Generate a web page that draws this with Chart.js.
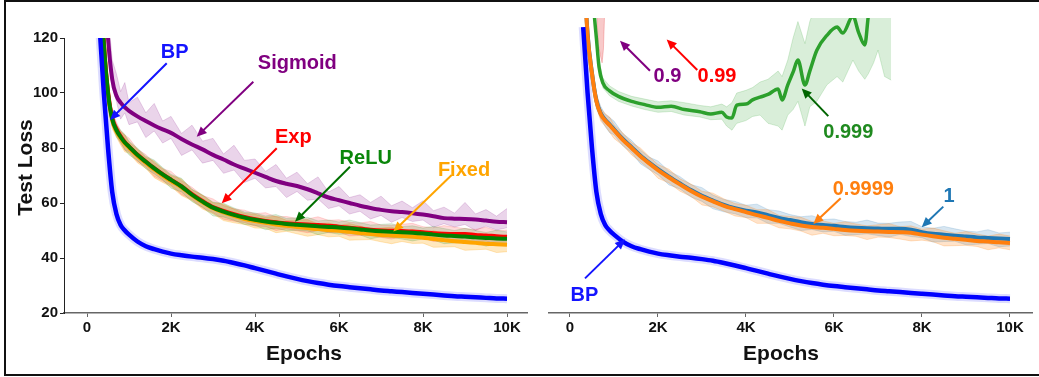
<!DOCTYPE html>
<html>
<head>
<meta charset="utf-8">
<script src="https://cdn.jsdelivr.net/npm/chart.js@4.4.1/dist/chart.umd.min.js"></script>
<style>
  body { margin: 0; background: #fff; }
  #wrap { position: relative; width: 1039px; height: 377px; overflow: hidden; background: #fff; }
  #frame { position: absolute; left: 4px; top: 0; width: 1040px; height: 372px; border-left: 2px solid #111; border-top: 2px solid #111; border-bottom: 2px solid #111; }
  #left { position: absolute; left: 0; top: 0; }
  #right { position: absolute; left: 520px; top: 0; }
</style>
</head>
<body>
<div id="wrap">
  <div id="frame"></div>
  <canvas id="left" width="530" height="377"></canvas>
  <canvas id="right" width="519" height="377"></canvas>
</div>
<script>
// Epochs shared by most of the runs
const epochs = [300, 400, 500, 600, 700, 800, 900, 1000, 1200, 1400, 1600, 1800, 2000, 2250, 2500, 2750, 3000, 3250, 3500, 3750, 4000, 4250, 4500, 4750, 5000, 5250, 5500, 5750, 6000, 6250, 6500, 6750, 7000, 7250, 7500, 7750, 8000, 8250, 8500, 8750, 9000, 9250, 9500, 9750, 10000];

// Left panel: activation functions
const bpLoss = [124, 100, 80, 64, 56, 52, 50, 48.5, 46, 44.3, 43.2, 42.3, 41.6, 41, 40.5, 40.1, 39.6, 39, 38.2, 37.3, 36.3, 35.3, 34.3, 33.3, 32.4, 31.6, 30.9, 30.3, 29.8, 29.4, 29, 28.6, 28.2, 27.9, 27.6, 27.3, 27, 26.7, 26.4, 26.1, 25.9, 25.7, 25.5, 25.3, 25.2];
const sigmoidLoss = [190, 145, 120, 105, 99, 96.5, 94.8, 93.5, 91.5, 89.8, 88.2, 86.8, 85.5, 83.3, 81.3, 79.5, 77.5, 75.8, 74, 72.5, 71, 69.5, 68, 67, 66.2, 65, 63.5, 62, 61, 60, 59, 58.2, 57.5, 57, 56.7, 56.3, 55.8, 55.2, 54.5, 54.3, 54.2, 54, 53.6, 53.2, 53];
const expLoss = [152, 119, 100.5, 91, 87, 84.3, 82.2, 80.6, 77.6, 75.1, 72.7, 70.5, 68.5, 66.1, 63.2, 60.7, 58.5, 57.1, 55.9, 54.9, 54.1, 53.5, 53.0, 52.6, 52.4, 52.2, 52.0, 51.7, 51.4, 51.0, 50.7, 50.3, 50.0, 49.9, 49.8, 49.6, 49.4, 49.0, 48.8, 48.7, 48.7, 48.4, 48.2, 47.9, 47.7];
const reluLoss = [150, 118, 100, 90.5, 86.5, 84, 82, 80.5, 77.5, 75, 72.6, 70.4, 68.4, 66, 63, 60.5, 58.3, 56.9, 55.7, 54.7, 53.9, 53.3, 52.8, 52.4, 52.1, 51.8, 51.5, 51.3, 51.1, 50.8, 50.4, 50.0, 49.7, 49.5, 49.4, 49.2, 48.9, 48.5, 48.2, 48.0, 47.8, 47.5, 47.3, 47.1, 47.0];
const fixedLoss = [149, 117.5, 99.5, 90, 86, 83.6, 81.6, 80.1, 77.1, 74.6, 72.2, 70, 68, 65.7, 62.8, 60.3, 58.1, 56.6, 55.3, 54.2, 53.4, 52.8, 52.2, 51.7, 51.3, 50.9, 50.5, 50.2, 49.9, 49.5, 49.1, 48.7, 48.4, 48.2, 48.0, 47.8, 47.4, 46.9, 46.5, 46.1, 45.8, 45.5, 45.2, 45.0, 44.8];

// Spread of the runs around each mean
const sigmoidUp = [9, 9, 9, 7, 8, 4, 9, 3, 7, 3, 8, 3, 6, 2, 7, 3, 6, 2, 7, 3, 5, 2, 6, 2, 5, 2, 6, 2, 5, 2, 4, 2, 5, 2, 4, 2, 5, 2, 4, 2, 6, 2, 4, 2, 5];
const sigmoidDown = [5, 5, 6, 3, 2, 6, 2, 5, 2, 6, 2, 5, 2, 6, 2, 5, 2, 5, 2, 5, 2, 4, 2, 5, 2, 4, 2, 4, 2, 4, 2, 4, 2, 4, 2, 3, 2, 4, 2, 3, 2, 4, 2, 3, 2];
const jitterA = [2.5, 3, 2.5, 3, 2, 2.5, 3, 2, 2.5, 2, 3, 2.5, 2, 3, 2, 2.5, 2, 3, 2.5, 2, 2.5, 2, 3, 2, 2.5, 3, 2, 2.5, 2, 3, 2.5, 2, 2.5, 3, 2, 2.5, 2, 3, 2.5, 2, 3, 2.5, 2, 3, 2.5];
const jitterB = [2, 2.5, 3, 2, 2.5, 2, 2.5, 3, 2, 2.5, 2, 2, 3, 2, 2.5, 2, 3, 2, 2, 2.5, 2, 3, 2, 2.5, 2, 2, 3, 2, 2.5, 2, 2, 3, 2, 2, 2.5, 3, 2, 2, 3, 2.5, 2, 2, 3, 2, 2.5];

// Right panel: decay values
const p9999Loss = [150, 121, 107, 97, 92.3, 90, 88.3, 86.5, 83, 80, 77, 74.4, 72, 69.3, 66.8, 64.4, 62.3, 60.6, 59, 57.8, 56.7, 55.6, 54.6, 53.5, 52.6, 51.8, 51.3, 51, 50.6, 50.2, 49.9, 49.7, 49.6, 49.5, 49.4, 49.2, 48.5, 47.9, 47.4, 47, 46.6, 46.2, 46, 45.7, 45.5];
const p1Loss = [151, 121.5, 107.3, 97.3, 92.6, 90.3, 88.6, 86.8, 83.3, 80.3, 77.3, 74.7, 72.3, 69.6, 67.1, 64.7, 62.6, 60.9, 59.3, 58.1, 57.2, 56.6, 55.6, 54.6, 53.8, 53.0, 52.4, 52.0, 51.7, 51.3, 51.0, 50.8, 50.7, 50.6, 50.6, 50.3, 49.4, 48.8, 48.5, 48.1, 47.8, 47.5, 47.3, 47.1, 46.9];

const g999Epochs = [500, 560, 600, 660, 750, 900, 1100, 1400, 1700, 2000, 2300, 2600, 2950, 3200, 3450, 3560, 3680, 3790, 4000, 4150, 4320, 4500, 4730, 4820, 4950, 5070, 5180, 5340, 5450, 5610, 5840, 6070, 6200, 6430, 6560, 6700, 6780, 6900, 7000, 7150, 7300];
const g999Loss = [140, 127, 120, 109.5, 103.6, 100.8, 98.8, 97, 95.8, 94.8, 95.2, 94, 93.2, 92.4, 93, 91.3, 90.9, 95.6, 96, 97.5, 98.5, 99.5, 101.5, 97.5, 103, 107.6, 112, 102.9, 108, 115.6, 121, 124, 121.8, 128, 122, 117.5, 128, 140, 150, 160, 170];
const g999Lo = [138, 125, 118, 107.5, 101.8, 99, 97, 95.3, 94, 93, 93.3, 92, 91.3, 90.3, 90.5, 88, 86.5, 89, 90, 91.5, 92, 89, 88, 86.5, 92, 94, 97, 88, 95, 97, 103, 106, 104, 112, 108, 105, 107, 111, 115.6, 106, 104.7];
const g999Hi = [142, 129, 122, 111.5, 105.4, 102.6, 100.6, 98.8, 97.8, 96.8, 97.2, 96.5, 95.5, 95, 96, 95, 96.5, 100, 101, 102, 104, 105, 108, 106, 112, 120, 126, 118, 126, 133, 140, 140, 140, 140, 140, 140, 140, 150, 160, 170, 180];

const r99Epochs = [560, 600, 640, 700, 730, 760, 800, 850];
const r99Loss = [200, 180, 160, 150, 150, 160, 180, 200];
const r99Lo = [200, 135, 118, 113, 111, 116, 135, 200];

// Axis ticks
const xTicks = [0, 2000, 4000, 6000, 8000, 10000];
const yTicks = [20, 40, 60, 80, 100, 120];

const FONT = '"Liberation Sans", Arial, Helvetica, sans-serif';

// Annotations (label position = centre/baseline, arrows from -> to, in data units)
const leftNotes = [
    { text: 'BP', color: '#1414ff', at: [2088, 112.6], from: [1898, 110.8], to: [548, 90.2] },
    { text: 'Sigmoid', color: '#800080', at: [5007, 108.7], from: [3960, 104.1], to: [2612, 84.1] },
    { text: 'Exp', color: '#ff0000', at: [4912, 81.7], from: [4517, 79.9], to: [3207, 59.9] },
    { text: 'ReLU', color: '#0a860a', arrow: '#007000', at: [6636, 74.2], from: [6262, 73.2], to: [4952, 53.2] },
    { text: 'Fixed', color: '#ffa500', at: [8976, 69.8], from: [8683, 70.2], to: [7293, 49.6] }
];
const rightNotes = [
    { text: '0.9', color: '#800080', at: [2216, 104.1], from: [1818, 108.1], to: [1136, 119.0] },
    { text: '0.99', color: '#ff0000', at: [3341, 104.1], from: [2893, 108.4], to: [2198, 119.5] },
    { text: '0.999', color: '#1f8a1f', arrow: '#006400', at: [6325, 83.5], from: [5870, 91.6], to: [5266, 101.7] },
    { text: '0.9999', color: '#ff7f0e', at: [6666, 62.9], from: [6152, 61.7], to: [5530, 52.4] },
    { text: '1', color: '#1f77b4', at: [8614, 60.5], from: [8484, 58.7], to: [7993, 51.2] },
    { text: 'BP', color: '#1414ff', at: [330, 24.5], from: [341, 32.6], to: [1250, 46.8] }
];

function pts(xs, ys) {
    return xs.map((x, i) => ({ x: x, y: ys[i] }));
}
function add(a, b) { return a.map((v, i) => v + b[i]); }
function sub(a, b) { return a.map((v, i) => v - b[i]); }

function line(xs, ys, color, order, width) {
    return { data: pts(xs, ys), borderColor: color, borderWidth: width || 4, fill: false,
             cubicInterpolationMode: 'monotone', order: order };
}
// wide faint copy of a line, for the narrow BP band
function halo(xs, ys, color, order) {
    return { data: pts(xs, ys), borderColor: color, borderWidth: 9, fill: false,
             cubicInterpolationMode: 'monotone', order: order };
}
// shaded band: upper edge fills down to the next dataset (lower edge)
function band(xs, hi, lo, color, order) {
    return [
        { data: pts(xs, hi), borderColor: color, borderWidth: 1, backgroundColor: color, fill: '+1', tension: 0, order: order },
        { data: pts(xs, lo), borderColor: color, borderWidth: 1, fill: false, tension: 0, order: order }
    ];
}

function drawArrow(ctx, x1, y1, x2, y2, color) {
    const ang = Math.atan2(y2 - y1, x2 - x1);
    const len = 10, half = 4.5;
    const c = Math.cos(ang), s = Math.sin(ang);
    ctx.save();
    ctx.strokeStyle = color;
    ctx.fillStyle = color;
    ctx.lineWidth = 2;
    ctx.beginPath();
    ctx.moveTo(x1, y1);
    ctx.lineTo(x2 - c * len * 0.8, y2 - s * len * 0.8);
    ctx.stroke();
    ctx.beginPath();
    ctx.moveTo(x2, y2);
    ctx.lineTo(x2 - c * len + s * half, y2 - s * len - c * half);
    ctx.lineTo(x2 - c * len - s * half, y2 - s * len + c * half);
    ctx.closePath();
    ctx.fill();
    ctx.restore();
}

function notesPlugin(notes, epochsTitleX, showYTitle) {
    return {
        id: 'notes',
        afterDraw(chart) {
            const ctx = chart.ctx, xs = chart.scales.x, ys = chart.scales.y;
            notes.forEach(n => {
                drawArrow(ctx, xs.getPixelForValue(n.from[0]), ys.getPixelForValue(n.from[1]),
                          xs.getPixelForValue(n.to[0]), ys.getPixelForValue(n.to[1]), n.arrow || n.color);
                ctx.save();
                ctx.font = 'bold 20px ' + FONT;
                ctx.fillStyle = n.color;
                ctx.textAlign = 'center';
                ctx.textBaseline = 'alphabetic';
                ctx.fillText(n.text, xs.getPixelForValue(n.at[0]), ys.getPixelForValue(n.at[1]));
                ctx.restore();
            });
            // axis titles
            ctx.save();
            ctx.font = 'bold 21px ' + FONT;
            ctx.fillStyle = '#111';
            ctx.textAlign = 'center';
            ctx.textBaseline = 'alphabetic';
            ctx.fillText('Epochs', epochsTitleX, 360);
            if (showYTitle) {
                ctx.translate(31.5, 167.5);
                ctx.rotate(-Math.PI / 2);
                ctx.fillText('Test Loss', 0, 0);
            }
            ctx.restore();
        }
    };
}

function xScale(min, max) {
    return {
        type: 'linear', min: min, max: max,
        afterBuildTicks: s => { s.ticks = xTicks.map(v => ({ value: v })); },
        afterFit: s => { s.height = 64; },
        grid: { drawOnChartArea: false, tickLength: 4, color: '#666', lineWidth: 1 },
        border: { color: '#666', width: 1.5 },
        ticks: { color: '#111', padding: 2, maxRotation: 0, autoSkip: false,
                 font: { family: FONT, size: 15, weight: 'bold' },
                 callback: v => v === 0 ? '0' : (v / 1000) + 'K' }
    };
}

const baseOptions = {
    responsive: false,
    animation: false,
    elements: { point: { radius: 0 } },
    plugins: { legend: { display: false }, tooltip: { enabled: false } }
};

// Left panel
const leftSets = [
    line(epochs, bpLoss, '#0000ff', 1, 4.5),
    line(epochs, reluLoss, '#008000', 2),
    line(epochs, expLoss, '#ff0000', 3),
    line(epochs, fixedLoss, '#ffa500', 4),
    line(epochs, sigmoidLoss, '#800080', 5),
    halo(epochs, bpLoss, 'rgba(60,60,255,0.18)', 6),
    ...band(epochs, add(reluLoss, jitterA), sub(reluLoss, jitterB), 'rgba(0,128,0,0.14)', 7),
    ...band(epochs, add(expLoss, jitterB), sub(expLoss, jitterA), 'rgba(255,0,0,0.14)', 8),
    ...band(epochs, add(fixedLoss, jitterA), sub(fixedLoss, jitterA), 'rgba(255,165,0,0.25)', 9),
    ...band(epochs, add(sigmoidLoss, sigmoidUp), sub(sigmoidLoss, sigmoidDown), 'rgba(128,0,128,0.17)', 10)
];

new Chart(document.getElementById('left'), {
    type: 'line',
    data: { datasets: leftSets },
    options: Object.assign({}, baseOptions, {
        layout: { padding: { left: 0, top: 38, right: 3, bottom: 0 } },
        scales: {
            x: xScale(-548, 10476),
            y: {
                min: 20, max: 120,
                afterBuildTicks: s => { s.ticks = yTicks.map(v => ({ value: v })); },
                afterFit: s => { s.width = 64; },
                grid: { drawOnChartArea: false, tickLength: 4, color: '#222', lineWidth: 1 },
                border: { color: '#222', width: 1 },
                ticks: { color: '#111', padding: 2, font: { family: FONT, size: 15, weight: 'bold' } }
            }
        }
    }),
    plugins: [notesPlugin(leftNotes, 304, true)]
});

// Right panel
const rightSets = [
    line(epochs, bpLoss, '#0000ff', 1, 4.5),
    line(g999Epochs, g999Loss, '#2ca02c', 2, 3.5),
    line(epochs, p9999Loss, '#ff7f0e', 3),
    line(epochs, p1Loss, '#1f77b4', 4),
    halo(epochs, bpLoss, 'rgba(60,60,255,0.18)', 5),
    ...band(g999Epochs, g999Hi, g999Lo, 'rgba(44,160,44,0.18)', 6),
    ...band(epochs, add(p9999Loss, jitterA), sub(p9999Loss, jitterB), 'rgba(255,127,14,0.22)', 7),
    ...band(epochs, add(p1Loss, jitterB), sub(p1Loss, jitterA), 'rgba(31,119,180,0.18)', 8),
    ...band(r99Epochs, r99Loss, r99Lo, 'rgba(230,60,60,0.28)', 9)
];

new Chart(document.getElementById('right'), {
    type: 'line',
    data: { datasets: rightSets },
    options: Object.assign({}, baseOptions, {
        layout: { padding: { left: 29, top: 18, right: 7, bottom: 0 } },
        scales: {
            x: xScale(-477, 10500),
            y: { min: 20, max: 127.3, display: false }
        }
    }),
    plugins: [notesPlugin(rightNotes, 261, false)]
});
</script>
</body>
</html>
